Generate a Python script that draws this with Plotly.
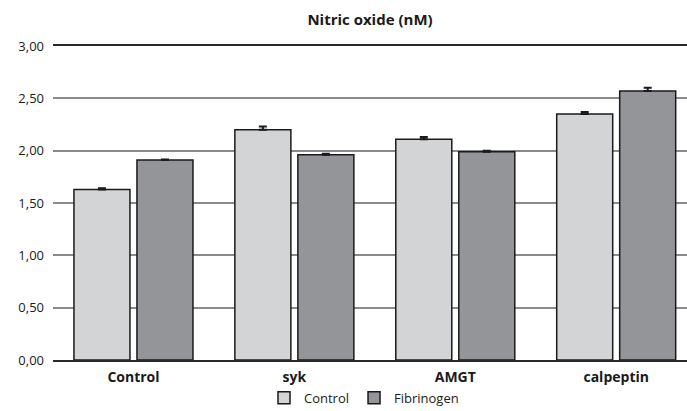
import plotly.graph_objects as go

categories = ["Control", "syk", "AMGT", "calpeptin"]
control_vals = [1.63, 2.20, 2.11, 2.35]
control_err = [0.01, 0.03, 0.02, 0.02]
fibrinogen_vals = [1.91, 1.96, 1.99, 2.57]
fibrinogen_err = [0.005, 0.01, 0.01, 0.03]
ytick_vals = [0, 0.5, 1.0, 1.5, 2.0, 2.5, 3.0]
ytick_text = ["0,00", "0,50", "1,00", "1,50", "2,00", "2,50", "3,00"]

FONT = "Open Sans, Lato, sans-serif"

fig = go.Figure()
fig.add_trace(go.Bar(
    name="Control", x=categories, y=control_vals,
    marker=dict(color="#d3d4d6", line=dict(color="#1a1a1a", width=1.5)),
    error_y=dict(type="data", symmetric=False, array=control_err,
                 arrayminus=[0]*4, color="#1a1a1a", thickness=2, width=4),
))
fig.add_trace(go.Bar(
    name="Fibrinogen", x=categories, y=fibrinogen_vals,
    marker=dict(color="#939598", line=dict(color="#1a1a1a", width=1.5)),
    error_y=dict(type="data", symmetric=False, array=fibrinogen_err,
                 arrayminus=[0]*4, color="#1a1a1a", thickness=2, width=4),
))

fig.update_layout(
    width=687, height=411,
    margin=dict(l=53, r=0, t=46, b=51, autoexpand=False),
    paper_bgcolor="white", plot_bgcolor="white",
    barmode="group", bargap=0.217, bargroupgap=0.111,
    font=dict(family=FONT, size=13, color="#1a1a1a"),
    title=dict(text="<b>Nitric oxide (nM)</b>", x=(370 - 53) / 634, xref="paper",
               y=0.953, yref="container", xanchor="center", yanchor="middle",
               font=dict(family=FONT, size=15, color="#1a1a1a")),
    showlegend=True,
    legend=dict(orientation="h", x=(364 - 53) / 634, xanchor="center", xref="paper",
                y=0.032, yanchor="middle", yref="container",
                font=dict(family=FONT, size=13),
                itemwidth=30, tracegroupgap=0, bgcolor="rgba(0,0,0,0)"),
    xaxis=dict(range=[-0.5, 3.44], showgrid=False, automargin=False,
               showline=True, mirror=True, linecolor="#2a2a2a", linewidth=1.5,
               ticks="", tickfont=dict(family=FONT, size=14, color="#1a1a1a"),
               ticklabelstandoff=3),
    yaxis=dict(range=[0, 3.0], tickvals=ytick_vals, ticktext=ytick_text, automargin=False,
               showgrid=True, gridcolor="#8a8a8a", gridwidth=1.5,
               zeroline=False, showline=False, ticks="", ticklabelstandoff=8,
               tickfont=dict(family=FONT, size=13, color="#1a1a1a")),
)
fig.update_xaxes(tickprefix="<b>", ticksuffix="</b>")
fig.write_html("out.html", config={"displayModeBar": False},
               post_script="document.body.style.margin='0';document.body.style.overflow='hidden';")
